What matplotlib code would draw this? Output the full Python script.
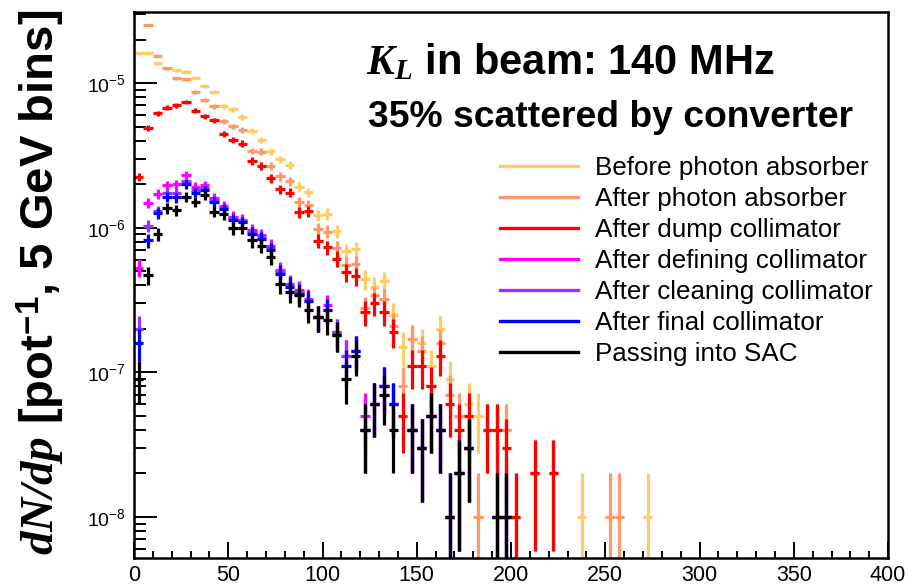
import numpy as np
import matplotlib
matplotlib.use('Agg')
import matplotlib.pyplot as plt
from matplotlib.lines import Line2D
from matplotlib.ticker import FixedLocator, MultipleLocator, FuncFormatter, LogLocator, NullFormatter

plt.rcParams['font.family'] = ['Liberation Sans', 'DejaVu Sans']
plt.rcParams['mathtext.fontset'] = 'custom'
plt.rcParams['mathtext.rm'] = 'Liberation Sans'
plt.rcParams['mathtext.bf'] = 'Liberation Sans:bold'
plt.rcParams['mathtext.it'] = 'Liberation Serif:italic'
plt.rcParams['mathtext.bfit'] = 'Liberation Serif:italic:bold'

# histogram contents, weighted counts per 5 GeV bin (1 count = 1e-8 per pot)
unit = 1e-8
bin_width = 5.0

before_absorber = [1602, 1602, 1366, 1262, 1222, 1189, 1076, 952, 870, 692,
                   657, 584, 467, 403, 338, 298, 271, 192, 176, 122,
                   125, 95, 69, 71, 44, 39, 43, 25, 15, 17,
                   16, 11, 20, 9, 5, 6, 5, 4, 4, 4,
                   1, 0, 2, 0, 2, 0, 0, 1, 0, 0,
                   0, 0, 0, 0, 1]
after_absorber = [0, 2512, 1551, 1262, 1076, 1059, 865, 762, 692, 545,
                  501, 473, 340, 335, 268, 227, 210, 150, 143, 98,
                  94, 72, 55, 56, 28, 34, 32, 21, 8, 17,
                  14, 8, 16, 7, 5, 5, 1, 4, 4, 4,
                  1, 0, 2, 0, 2, 0, 0, 0, 0, 0,
                  1, 1, 0, 0, 0]
after_dump = [225, 490, 617, 674, 704, 742, 643, 591, 554, 448,
              403, 382, 289, 268, 219, 184, 175, 128, 130, 81,
              73, 61, 49, 46, 26, 30, 26, 19, 5, 11,
              11, 8, 13, 6, 4, 5, 0, 4, 4, 3,
              1, 0, 2, 0, 2, 0, 0, 0, 0, 0,
              0, 0, 0, 0, 0]
after_defining = [53, 149, 171, 197, 200, 231, 192, 197, 160, 141,
                  119, 113, 96, 89, 75, 51, 41, 37, 32, 24,
                  29, 19, 13, 14, 5, 6, 8, 6, 0, 4,
                  3, 5, 4, 1, 2, 3, 0, 0, 1, 1]
after_cleaning = [20, 103, 130, 173, 175, 210, 182, 187, 155, 137,
                  116, 111, 93, 86, 72, 49, 40, 36, 31, 24,
                  27, 19, 13, 14, 4, 6, 8, 6, 0, 4,
                  3, 5, 4, 1, 2, 3, 0, 0, 1, 1]
after_final = [16, 82, 126, 164, 162, 200, 175, 182, 150, 134,
               113, 109, 91, 84, 70, 48, 39, 35, 31, 24,
               27, 18, 11, 14, 4, 6, 8, 6, 0, 4,
               3, 5, 4, 1, 2, 3, 0, 0, 1, 1]
into_sac = [9, 47, 90, 136, 132, 164, 151, 168, 129, 124,
            99, 100, 82, 75, 63, 41, 36, 34, 27, 24,
            23, 18, 9, 13, 4, 6, 7, 4, 0, 4,
            3, 5, 4, 1, 2, 3, 0, 0, 1, 1]

labels = ['Before photon absorber', 'After photon absorber', 'After dump collimator',
          'After defining collimator', 'After cleaning collimator',
          'After final collimator', 'Passing into SAC']
colors = ['#ffcc66', '#ff9966', '#ff0000', '#ff00ff', '#9933ff', '#0000ff', '#000000']
series = [before_absorber, after_absorber, after_dump, after_defining,
          after_cleaning, after_final, into_sac]

fig = plt.figure(figsize=(9.18, 5.86), dpi=100)
ax = fig.add_axes([0.146, 0.0478, 0.8214, 0.9317])
ax.set_yscale('log', nonpositive='clip')

for counts, col in zip(series, colors):
    n = np.array(counts, dtype=float)
    x = np.arange(len(n)) * bin_width + bin_width / 2
    keep = n > 0
    y = n[keep] * unit
    err = np.sqrt(n[keep]) * unit
    lo = y - np.maximum(y - err, 1e-12)
    ax.errorbar(x[keep], y, xerr=bin_width / 2, yerr=[lo, err], fmt='none',
                ecolor=col, elinewidth=2.3, capsize=0)

ax.set_xlim(0, 400)
ax.set_ylim(5.2e-9, 3.1e-5)

ax.xaxis.set_major_locator(MultipleLocator(50))
ax.xaxis.set_minor_locator(MultipleLocator(10))
ax.yaxis.set_major_locator(FixedLocator([1e-8, 1e-7, 1e-6, 1e-5]))
ax.yaxis.set_minor_locator(LogLocator(base=10, subs=np.arange(2, 10)))
ax.yaxis.set_minor_formatter(NullFormatter())
ax.yaxis.set_major_formatter(FuncFormatter(lambda v, p: r'$\mathrm{10^{%d}}$' % round(np.log10(v))))

ax.tick_params(axis='both', which='both', direction='in', width=1.4, top=False, right=False)
ax.tick_params(axis='x', which='major', length=11.5, labelsize=15.5, pad=5)
ax.tick_params(axis='x', which='minor', length=5)
ax.tick_params(axis='y', which='major', length=16.5, labelsize=14, pad=6)
ax.tick_params(axis='y', which='minor', length=8.5)
for s in ax.spines.values():
    s.set_linewidth(1.8)

handles = [Line2D([], [], color=c, lw=2.4) for c in colors]
ax.legend(handles, labels, loc='upper left', bbox_to_anchor=(500 / 918, 1 - 156 / 586),
          bbox_transform=fig.transFigure, frameon=False, fontsize=18.7,
          handlelength=3.0, handletextpad=0.65, labelspacing=0.27,
          borderpad=0, borderaxespad=0)

fig.text(366 / 918, 1 - 74.3 / 586, r'$\mathbfit{K}_{\mathbfit{L}}$ in beam: 140 MHz',
         fontsize=30, fontweight='bold', va='baseline')
fig.text(368 / 918, 1 - 126.7 / 586, '35% scattered by converter',
         fontsize=26.8, fontweight='bold', va='baseline')
fig.text(0.045, 0.518, r'$\mathbfit{dN/dp}$ [pot$^{\mathbf{-1}}$, 5 GeV bins]',
         rotation=90, fontsize=34, fontweight='bold', ha='center', va='center')

fig.savefig('out.png', dpi=100)
